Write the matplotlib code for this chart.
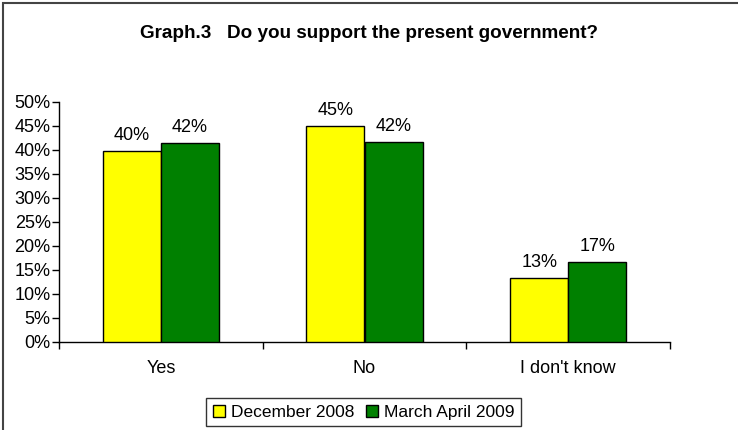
import matplotlib.pyplot as plt
from matplotlib.patches import Rectangle
from matplotlib.lines import Line2D

plt.rcParams['font.family'] = ['Liberation Sans', 'DejaVu Sans']

categories = ["Yes", "No", "I don't know"]
dec_2008 = [39.8, 45.0, 13.3]
mar_apr_2009 = [41.5, 41.6, 16.7]
series_names = ["December 2008", "March April 2009"]
colors = ["#FFFF00", "#008000"]

fig = plt.figure(figsize=(7.38, 4.30), dpi=100)
ax = fig.add_axes([59 / 738, 1 - 342 / 430, (670 - 59) / 738, (342 - 102) / 430])

w = 0.285
x = list(range(len(categories)))
for i, (vals, col, name) in enumerate(zip([dec_2008, mar_apr_2009], colors, series_names)):
    pos = [xi + (i - 0.5) * w for xi in x]
    bars = ax.bar(pos, [v / 100 for v in vals], width=w, color=col,
                  edgecolor='black', linewidth=1.0, label=name, zorder=3)
    for b, v in zip(bars, vals):
        ax.annotate(f"{round(v)}%", (b.get_x() + b.get_width() / 2, b.get_height()),
                    xytext=(0, 5), textcoords='offset points',
                    ha='center', va='bottom', fontsize=13)

ax.set_xlim(-0.5, 2.5)
ax.set_ylim(0, 0.5)
ax.set_yticks([i * 0.05 for i in range(11)])
ax.set_yticklabels([f"{i * 5}%" for i in range(11)])
ax.set_xticks([-0.5, 0.5, 1.5, 2.5])
ax.set_xticklabels([])
ax.set_xticks(x, minor=True)
ax.set_xticklabels(categories, minor=True)
ax.tick_params(axis='x', which='major', direction='out', length=5, width=1)
ax.tick_params(axis='x', which='minor', length=0, pad=13, labelsize=13)
ax.tick_params(axis='y', direction='out', length=5, width=1, labelsize=13, pad=1)

for s in ['top', 'right']:
    ax.spines[s].set_visible(False)
for s in ['left', 'bottom']:
    ax.spines[s].set_color('black')
    ax.spines[s].set_linewidth(1)

fig.text(0.5, 1 - 33 / 430, "Graph.3   Do you support the present government?",
         ha='center', va='center', fontsize=13.6, fontweight='bold')

handles = [Line2D([], [], marker='s', linestyle='none', markersize=9,
                  markerfacecolor=c, markeredgecolor='black', markeredgewidth=1)
           for c in colors]
leg = fig.legend(handles, series_names, loc='center', ncol=2,
                 bbox_to_anchor=(363.5 / 738, 1 - 412 / 430),
                 fontsize=12.5, frameon=True, fancybox=False, shadow=False,
                 handlelength=0.8, handletextpad=0.3, columnspacing=0.6,
                 borderpad=0.35, borderaxespad=0)
leg.get_frame().set_edgecolor('black')
leg.get_frame().set_linewidth(1)

fig.patches.append(Rectangle((3 / 738, -0.1), 1.2, 1 - 3 / 430 + 0.1,
                             transform=fig.transFigure, fill=False,
                             edgecolor='#444444', linewidth=1.5))

fig.savefig("out.png", dpi=100)
